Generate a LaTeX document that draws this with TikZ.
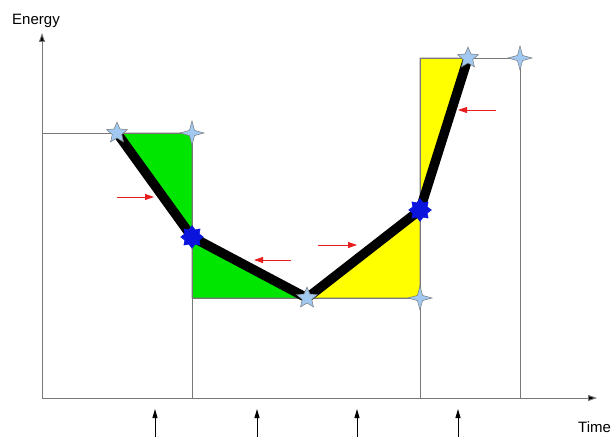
\documentclass[tikz,border=0pt]{standalone}
\usepackage{fontspec}
\setmainfont{Liberation Sans}
\usetikzlibrary{shapes.geometric,arrows.meta}
\definecolor{lgray}{RGB}{120,120,120}
\definecolor{gfill}{RGB}{0,230,0}
\definecolor{yfill}{RGB}{255,255,0}
\definecolor{lblue}{RGB}{160,200,240}
\definecolor{dblue}{RGB}{10,20,220}
\definecolor{rarrow}{RGB}{230,30,30}
\begin{document}
\begin{tikzpicture}[x=1pt,y=-1pt,
  guide/.style={draw=lgray,line width=0.8pt},
  regionfill/.style={draw=lgray,line width=0.6pt},
  axis/.style={draw=lgray,line width=0.9pt,-{Triangle[length=9pt,width=6pt,fill=black]}},
  tick/.style={draw=black,line width=0.9pt,-{Triangle[length=9pt,width=5pt]}},
  push/.style={draw=rarrow,line width=0.8pt,-{Triangle[length=9pt,width=6pt]}},
  trajectory/.style={draw=black,line width=9.5pt,line join=round},
  fivestar/.style={star,star points=5,star point ratio=2.2,minimum size=22pt,inner sep=0pt,fill=lblue,draw=lgray,line width=0.5pt},
  fourstar/.style={star,star points=4,star point ratio=3.3,minimum size=24pt,inner sep=0pt,fill=lblue,draw=lgray,line width=0.5pt},
  burst/.style={star,star points=8,star point ratio=1.45,minimum size=23pt,inner sep=0pt,fill=dblue,draw=dblue,line join=round},
  lbl/.style={font=\fontsize{15}{17}\selectfont,inner sep=0pt}]
\useasboundingbox (0,0) rectangle (612,436);
% named points
\coordinate (o) at (42,398);
\coordinate (ytop) at (42,33);
\coordinate (xend) at (597,398);
\coordinate (p1) at (117,133);
\coordinate (p2) at (192,237);
\coordinate (p3) at (307,298);
\coordinate (p4) at (420,210);
\coordinate (p5) at (468,58);
\coordinate (c1) at (192,133);
\coordinate (c2) at (420,298);
\coordinate (c3) at (520,58);
\coordinate (b1) at (192,398);
\coordinate (b2) at (420,398);
\coordinate (b3) at (520,398);
\coordinate (l1) at (42,133);
\coordinate (m1) at (192,298);
\coordinate (t2) at (420,58);
% fills
\path[regionfill,fill=gfill] (p1) -- (c1) -- (p2) -- cycle;
\path[regionfill,fill=gfill] (p2) -- (m1) -- (p3) -- cycle;
\path[regionfill,fill=yfill] (p3) -- (c2) -- (p4) -- cycle;
\path[regionfill,fill=yfill] (p4) -- (t2) -- (p5) -- cycle;
% guides
\draw[guide] (l1) -- (c1);
\draw[guide] (c1) -- (b1);
\draw[guide] (m1) -- (c2);
\draw[guide] (t2) -- (c3);
\draw[guide] (t2) -- (b2);
\draw[guide] (c3) -- (b3);
% axes
\draw[axis] (o) -- (ytop);
\draw[axis] (o) -- (xend);
\node[lbl,anchor=base] (ylab) at (36,25) {Energy};
\node[lbl,anchor=base west] (xlab) at (578,432) {Time};
% trajectory
\draw[trajectory] (p1) -- (p2) -- (p3) -- (p4) -- (p5);
% markers
\node[fivestar] (s1) at (p1) {};
\node[fivestar] (s3) at (p3) {};
\node[fivestar] (s5) at (p5) {};
\node[fourstar] (f1) at (c1) {};
\node[fourstar] (f2) at (c2) {};
\node[fourstar] (f3) at (c3) {};
\node[burst] (k2) at (p2) {};
\node[burst] (k4) at (p4) {};
% red arrows
\coordinate (ra1) at (117,197); \coordinate (rb1) at (154,197);
\coordinate (ra2) at (291,260); \coordinate (rb2) at (254,260);
\coordinate (ra3) at (318,245); \coordinate (rb3) at (357,245);
\coordinate (ra4) at (496,110); \coordinate (rb4) at (458,110);
\draw[push] (ra1) -- (rb1);
\draw[push] (ra2) -- (rb2);
\draw[push] (ra3) -- (rb3);
\draw[push] (ra4) -- (rb4);
% bottom ticks
\foreach \x/\n in {155/a,257/b,357/c,458/d}{
  \coordinate (tb\n) at (\x,437);
  \coordinate (tt\n) at (\x,409);
  \draw[tick] (tb\n) -- (tt\n);
}
\end{tikzpicture}
\end{document}
